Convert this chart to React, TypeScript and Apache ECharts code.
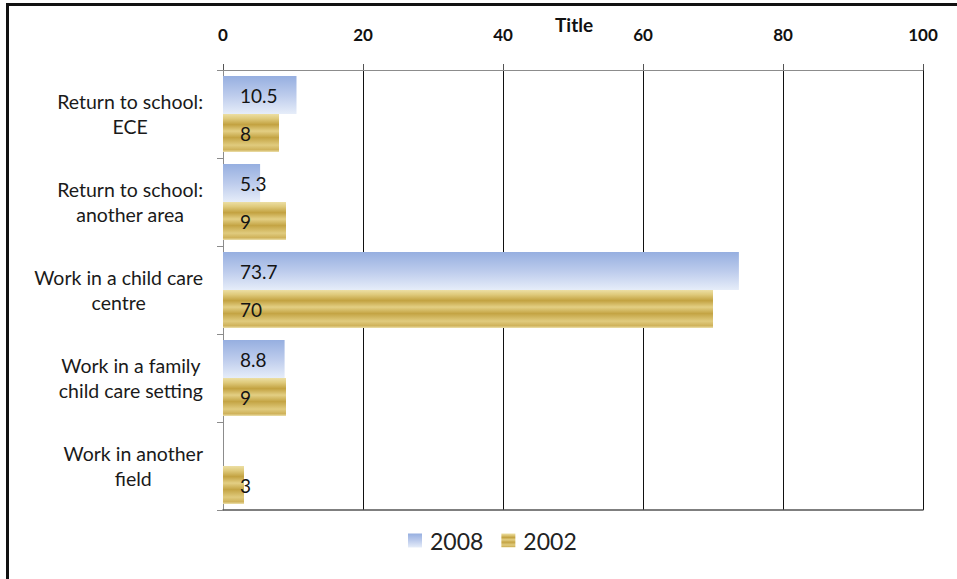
import React, { useEffect, useRef } from "react";
import * as echarts from "echarts";

// Outcomes reported for 2008 and 2002 graduates (percent)
const categories = [
  "Return to school:\nECE",
  "Return to school:\nanother area",
  "Work in a child care\ncentre",
  "Work in a family\nchild care setting",
  "Work in another\nfield",
];
const values2008: (number | null)[] = [10.5, 5.3, 73.7, 8.8, null];
const values2002: (number | null)[] = [8, 9, 70, 9, 3];
const seriesNames = ["2008", "2002"];
const axisMin = 0;
const axisMax = 100;
const axisStep = 20;
const chartTitle = "Title";

const FONT = "Lato, 'Open Sans', sans-serif";

const blueFill = new echarts.graphic.LinearGradient(0, 0, 0, 1, [
  { offset: 0, color: "#96afe0" },
  { offset: 0.5, color: "#bccbec" },
  { offset: 1, color: "#e6edf9" },
]);

const goldFill = new echarts.graphic.LinearGradient(0, 0, 0, 1, [
  { offset: 0, color: "#ecdfa4" },
  { offset: 0.12, color: "#dfca7c" },
  { offset: 0.28, color: "#c3a241" },
  { offset: 0.45, color: "#e3cf84" },
  { offset: 0.62, color: "#c4a444" },
  { offset: 0.82, color: "#e0cb7e" },
  { offset: 0.94, color: "#cfb25a" },
  { offset: 1, color: "#ece0ac" },
]);

const barLabel = {
  show: true,
  position: "insideLeft" as const,
  distance: 17,
  color: "#141414",
  fontFamily: FONT,
  fontSize: 19,
};

export default function App() {
  const ref = useRef<HTMLDivElement>(null);

  useEffect(() => {
    if (!ref.current) return;
    const chart = echarts.init(ref.current, null, { renderer: "svg" });
    chart.setOption({
      animation: false,
      backgroundColor: "#ffffff",
      title: {
        text: chartTitle,
        left: 550,
        top: 10,
        textStyle: { fontFamily: FONT, fontSize: 19, fontWeight: "bold", color: "#111" },
      },
      legend: {
        bottom: 22,
        left: 403,
        icon: "rect",
        itemWidth: 14,
        itemHeight: 14,
        itemGap: 18,
        data: seriesNames,
        textStyle: { fontFamily: FONT, fontSize: 23, color: "#222", padding: [0, 0, 0, 3] },
      },
      grid: { left: 223, right: 34, top: 70, bottom: 69 },
      xAxis: [
        {
          type: "value",
          position: "top",
          min: axisMin,
          max: axisMax,
          interval: axisStep,
          axisLine: { show: true, lineStyle: { color: "#8c8c8c", width: 1 } },
          axisTick: { show: true, length: 6, lineStyle: { color: "#555" } },
          axisLabel: {
            margin: 27,
            fontFamily: FONT,
            fontSize: 17,
            fontWeight: "bold",
            color: "#111",
          },
          splitLine: {
            show: true,
            lineStyle: { color: ["#8c8c8c", "#111", "#111", "#111", "#111", "#111"], width: 1 },
          },
        },
        {
          type: "value",
          position: "bottom",
          min: axisMin,
          max: axisMax,
          interval: axisStep,
          axisLine: { show: true, lineStyle: { color: "#555", width: 1.5 } },
          axisTick: { show: false },
          axisLabel: { show: false },
          splitLine: { show: false },
        },
      ],
      yAxis: {
        type: "category",
        inverse: true,
        data: categories,
        axisLine: { show: true, lineStyle: { color: "#8c8c8c" } },
        axisTick: { show: true, length: 6, lineStyle: { color: "#8c8c8c" } },
        axisLabel: {
          align: "right",
          margin: 20,
          formatter: (v: string) =>
            v
              .split("\n")
              .map((l) => `{a|${l}}`)
              .join("\n"),
          rich: {
            a: {
              align: "center",
              fontFamily: FONT,
              fontSize: 19.5,
              lineHeight: 25,
              color: "#1a1a1a",
            },
          },
        },
      },
      series: [
        {
          name: seriesNames[0],
          type: "bar",
          data: values2008,
          barWidth: 38,
          barGap: "0%",
          itemStyle: { color: blueFill },
          label: barLabel,
        },
        {
          name: seriesNames[1],
          type: "bar",
          data: values2002,
          barWidth: 38,
          barGap: "0%",
          itemStyle: { color: goldFill },
          label: barLabel,
        },
      ],
      graphic: [
        { type: "rect", shape: { x: 6, y: 3, width: 951, height: 3 }, style: { fill: "#111" }, silent: true },
        { type: "rect", shape: { x: 6, y: 3, width: 3, height: 576 }, style: { fill: "#111" }, silent: true },
      ],
    });
    return () => chart.dispose();
  }, []);

  return (
    <div
      ref={ref}
      style={{ position: "absolute", left: 0, top: 0, width: 957, height: 579 }}
    />
  );
}
